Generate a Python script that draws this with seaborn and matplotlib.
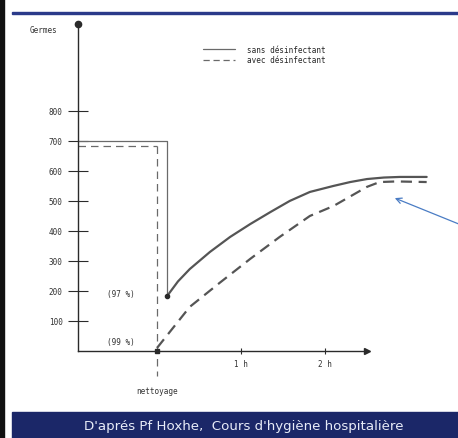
import matplotlib
matplotlib.use("Agg")
import matplotlib.pyplot as plt
from matplotlib.patches import Rectangle
import seaborn as sns

sns.set_style("white")
plt.rcParams["font.family"] = ["DejaVu Sans Mono", "DejaVu Sans"]

# Time in hours after cleaning ("nettoyage" at t = 0), germ counts
t_sans = [0.12, 0.25, 0.39, 0.63, 0.87, 1.11, 1.35, 1.58, 1.82, 2.10, 2.30, 2.50, 2.70, 2.89, 3.21]
g_sans = [183, 232, 273, 330, 380, 423, 463, 500, 530, 550, 563, 573, 578, 580, 580]
t_avec = [0.0, 0.39, 0.75, 1.11, 1.46, 1.82, 2.10, 2.30, 2.50, 2.65, 2.85, 3.21]
g_avec = [10, 147, 228, 307, 380, 450, 483, 515, 547, 563, 565, 563]

# Level before cleaning
t_before = [-0.94, 0.12, 0.12]
g_before_sans = [700, 700, 183]
t_before_avec = [-0.94, 0.0]
g_before_avec = [683, 683]

y_ticks = [100, 200, 300, 400, 500, 600, 700, 800]
x_ticks = [1, 2]
x_tick_labels = ["1 h", "2 h"]
series_labels = ["sans désinfectant", "avec désinfectant"]
pct_labels = ["(97 %)", "(99 %)"]
source_text = "D'aprés Pf Hoxhe,  Cours d'hygiène hospitalière"

fig = plt.figure(figsize=(4.58, 4.39), dpi=100)
ax = fig.add_axes([0, 0, 1, 1])
ax.set_xlim(-1.869, 3.583)
ax.set_ylim(-290, 1173)

ink = "#2a2a2a"
curve = "#555555"
thin = "#6a6a6a"

# slide frame
fig.patches.append(Rectangle((0.0, 0.0), 0.008, 1.0, transform=fig.transFigure,
                             color="#111111", zorder=0))
fig.patches.append(Rectangle((0.026, 0.965), 0.974, 0.006, transform=fig.transFigure,
                             color="#2b3a8a", zorder=0))
fig.patches.append(Rectangle((0.026, 0.0), 0.974, 0.059, transform=fig.transFigure,
                             color="#1b2768", zorder=0))
fig.text(0.533, 0.028, source_text, color="#e8ecf8", fontsize=9.6,
         family="DejaVu Sans", ha="center", va="center")

# axes as arrows
for s in ["top", "right"]:
    ax.spines[s].set_visible(False)
ax.spines["left"].set_position(("data", -0.94))
ax.spines["bottom"].set_position(("data", 0))
ax.spines["left"].set_bounds(0, 1090)
ax.spines["bottom"].set_bounds(-0.94, 2.5)
for s in ["left", "bottom"]:
    ax.spines[s].set_color(ink)
    ax.spines[s].set_linewidth(1.0)
ax.plot([-0.94], [1090], marker="o", ms=4.5, color=ink, clip_on=False)
ax.plot([2.5], [0], marker=">", ms=4.5, color=ink, clip_on=False)

ax.set_yticks(y_ticks)
ax.set_yticklabels([str(v) for v in y_ticks])
ax.set_xticks(x_ticks)
ax.set_xticklabels(x_tick_labels)
ax.tick_params(axis="y", direction="inout", length=14, width=0.8, color=ink,
               labelsize=5.5, labelcolor="#333333", pad=4, left=True)
ax.tick_params(axis="x", direction="inout", length=5, width=0.8, color=ink,
               labelsize=5.5, labelcolor="#333333", pad=3, bottom=True)

# before-cleaning levels
sns.lineplot(x=t_before, y=g_before_sans, ax=ax, sort=False, color=thin, lw=0.9,
             estimator=None)
sns.lineplot(x=t_before_avec, y=g_before_avec, ax=ax, sort=False, color=thin, lw=0.9,
             estimator=None, linestyle=(0, (6, 4)))
# cleaning moment
ax.plot([0, 0], [683, -83], color=thin, lw=0.9, linestyle=(0, (6, 4)))

# regrowth curves
sns.lineplot(x=t_sans, y=g_sans, ax=ax, sort=False, color=curve, lw=1.6,
             estimator=None, label=series_labels[0], solid_joinstyle="round")
sns.lineplot(x=t_avec, y=g_avec, ax=ax, sort=False, color=curve, lw=1.6,
             estimator=None, linestyle=(0, (5, 3)), label=series_labels[1])
ax.plot([t_sans[0]], [g_sans[0]], marker="o", ms=3, color=ink)
ax.plot([0], [0], marker="s", ms=3.5, color=ink)

leg = ax.legend(loc="upper left", bbox_to_anchor=(0.435, 0.905), frameon=False,
                fontsize=5.5, handlelength=4.2, handletextpad=1.6,
                labelspacing=0.25, borderpad=0)
for h in leg.get_lines():
    h.set_linewidth(0.9)
    h.set_color(thin)

ax.text(-1.52, 1070, "Germes", fontsize=5.5, color="#333333", va="center", ha="left")
ax.text(-0.27, 193, pct_labels[0], fontsize=5.5, color="#333333", va="center", ha="right")
ax.text(-0.27, 33, pct_labels[1], fontsize=5.5, color="#333333", va="center", ha="right")
ax.text(0.0, -133, "nettoyage", fontsize=5.5, color="#333333", va="center", ha="center")

# pointer to the plateau
ax.annotate("", xy=(2.80, 513), xytext=(3.62, 420),
            arrowprops=dict(arrowstyle="->", color="#4a7cc4", lw=0.9),
            annotation_clip=False)

fig.savefig("out.png", dpi=100)
